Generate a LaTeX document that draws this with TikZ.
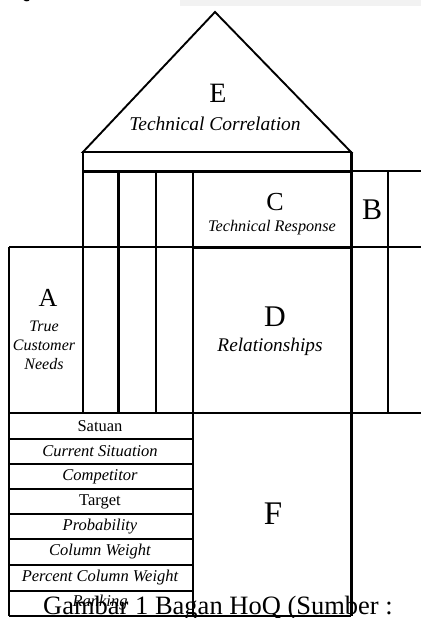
\documentclass[tikz,border=0pt]{standalone}
\usepackage{fontspec}
\setmainfont{Liberation Serif}
\usetikzlibrary{calc}

\begin{document}
\begin{tikzpicture}[x=1pt,y=-1pt,
ln/.style={line width=1.9pt},tk/.style={line width=3pt},
let/.style={inner sep=0pt,font=\fontsize{28}{30}\selectfont},
ital/.style={inner sep=0pt,font=\fontsize{#1}{#1}\selectfont\itshape},
rowtxt/.style={inner sep=0pt,font=\fontsize{16.5}{18}\selectfont}]
\useasboundingbox(0,0)rectangle(421,618);
\fill[gray!10](180,0)rectangle(421,6);
\node[inner sep=0pt,anchor=base east,font=\fontsize{26.5}{28}\selectfont](q)at(30,-2){Q};
% roof
\draw[ln](83,152)--(215,12)--(351,152)--cycle;\draw[ln](83,152)rectangle(351,171);
\draw[tk](83,171)--(351,171);\draw[ln](351,171)--(421,171);
% columns
\draw[ln](83,171)--(83,413);\draw[tk](118,171)--(118,413);\draw[ln](156,171)--(156,413);
\draw[ln](193,171)--(193,616);\draw[tk](351,152)--(351,616);\draw[ln](388,171)--(388,413);
% rows
\draw[ln](9,247)--(421,247);\draw[tk](193,247)--(351,247);\draw[ln](9,247)--(9,616);
\draw[ln](9,413)--(421,413);\draw[ln](9,616)--(351,616);
\draw[ln](9,439)--(193,439);\draw[ln](9,464)--(193,464);\draw[ln](9,489)--(193,489);
\draw[ln](9,514)--(193,514);\draw[ln](9,539)--(193,539);\draw[ln](9,565)--(193,565);\draw[ln](9,591)--(193,591);
% labels
\node[let](e)at(218,93){E};\node[ital=19.5](tc)at(215,124){Technical Correlation};
\node[let,font=\fontsize{26}{28}\selectfont](c)at(275,202){C};\node[ital=16.2](tr)at(272,228){Technical Response};
\node[let,font=\fontsize{30}{32}\selectfont](b)at(372,210){B};
\node[let,font=\fontsize{26}{28}\selectfont](a)at(48,298){A};
\node[ital=16,align=center,font=\fontsize{16}{19}\selectfont\itshape](tcn)at(44,345){True\\Customer\\Needs};
\node[let,font=\fontsize{30}{32}\selectfont](d)at(275,317){D};\node[ital=19.3](rel)at(270,347){Relationships};
\node[let,font=\fontsize{33}{35}\selectfont](f)at(273,514){F};
\node[rowtxt](r1)at(100,426){Satuan};
\node[rowtxt,font=\fontsize{16.5}{18}\selectfont\itshape](r2)at(100,451.5){Current Situation};
\node[rowtxt,font=\fontsize{16.5}{18}\selectfont\itshape](r3)at(100,476.5){Competitor};
\node[rowtxt](r4)at(100,501.5){Target};
\node[rowtxt,font=\fontsize{16.5}{18}\selectfont\itshape](r5)at(100,526.5){Probability};
\node[rowtxt,font=\fontsize{16.5}{18}\selectfont\itshape](r6)at(100,552){Column Weight};
\node[rowtxt,font=\fontsize{16.5}{18}\selectfont\itshape](r7)at(100,578){Percent Column Weight};
\node[rowtxt,font=\fontsize{16.5}{18}\selectfont\itshape](r8)at(100,603){Ranking};
% caption
\node[inner sep=0pt,anchor=base west,font=\fontsize{26.5}{28}\selectfont](cap)at(43,614){Gambar 1 Bagan HoQ (Sumber :};
\end{tikzpicture}
\end{document}
